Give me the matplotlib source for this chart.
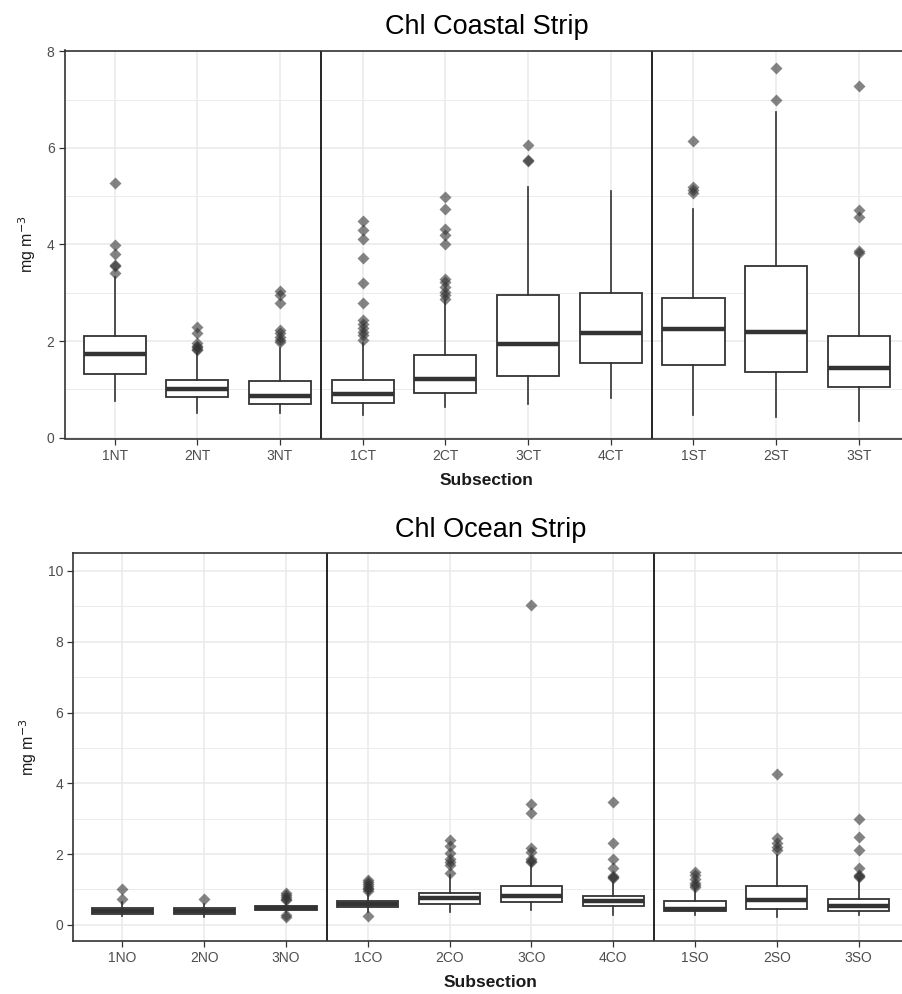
import matplotlib
matplotlib.use('Agg')
import matplotlib.pyplot as plt

plt.rcParams['font.family'] = ['Liberation Sans', 'DejaVu Sans']

# Données : bande côtière
labels_coast = ['1NT', '2NT', '3NT', '1CT', '2CT', '3CT', '4CT', '1ST', '2ST', '3ST']
q1_coast = [1.31, 0.83, 0.69, 0.71, 0.92, 1.27, 1.54, 1.50, 1.36, 1.05]
med_coast = [1.74, 1.01, 0.86, 0.90, 1.21, 1.93, 2.16, 2.24, 2.19, 1.45]
q3_coast = [2.10, 1.20, 1.17, 1.20, 1.71, 2.95, 3.00, 2.89, 3.55, 2.10]
whislo_coast = [0.76, 0.50, 0.50, 0.47, 0.64, 0.70, 0.81, 0.47, 0.42, 0.35]
whishi_coast = [3.33, 1.76, 1.86, 1.96, 2.85, 5.19, 5.11, 4.74, 6.74, 3.71]
fliers_coast = [
    [5.27, 3.98, 3.81, 3.58, 3.55, 3.41],
    [2.29, 2.16, 1.95, 1.90, 1.87, 1.84, 1.82],
    [3.04, 2.95, 2.79, 2.23, 2.16, 2.08, 2.02, 1.98],
    [4.49, 4.31, 4.12, 3.72, 3.21, 2.79, 2.43, 2.36, 2.26, 2.19, 2.12, 2.02],
    [4.98, 4.74, 4.33, 4.19, 4.02, 3.29, 3.23, 3.12, 3.02, 2.95, 2.88],
    [6.07, 5.75, 5.73],
    [],
    [6.15, 5.19, 5.12, 5.07],
    [7.65, 7.00],
    [7.28, 4.72, 4.57, 3.87, 3.83],
]

# Données : bande océanique
labels_ocean = ['1NO', '2NO', '3NO', '1CO', '2CO', '3CO', '4CO', '1SO', '2SO', '3SO']
q1_ocean = [0.31, 0.31, 0.42, 0.50, 0.58, 0.65, 0.54, 0.39, 0.46, 0.39]
med_ocean = [0.40, 0.40, 0.47, 0.58, 0.75, 0.82, 0.68, 0.46, 0.70, 0.53]
q3_ocean = [0.48, 0.48, 0.53, 0.67, 0.90, 1.09, 0.82, 0.67, 1.09, 0.74]
whislo_ocean = [0.25, 0.23, 0.37, 0.37, 0.37, 0.43, 0.27, 0.27, 0.23, 0.27]
whishi_ocean = [0.65, 0.60, 0.65, 0.90, 1.40, 1.75, 1.20, 1.00, 1.97, 1.31]
fliers_ocean = [
    [1.00, 0.74],
    [0.73],
    [0.89, 0.84, 0.79, 0.74, 0.70, 0.27, 0.23],
    [1.26, 1.20, 1.15, 1.10, 1.05, 1.00, 0.95, 0.24],
    [2.39, 2.22, 2.02, 1.85, 1.78, 1.69, 1.45],
    [9.03, 3.40, 3.15, 2.16, 2.06, 1.87, 1.80, 1.78],
    [3.47, 2.30, 1.87, 1.61, 1.37, 1.34, 1.31],
    [1.50, 1.40, 1.30, 1.17, 1.12, 1.07],
    [4.27, 2.44, 2.30, 2.20, 2.11],
    [3.00, 2.49, 2.11, 1.61, 1.40, 1.37, 1.34],
]


def panneau(ax, labels, q1, med, q3, lo, hi, fliers, ylim, major, minor, title):
    stats = []
    for i in range(len(labels)):
        stats.append({'q1': q1[i], 'med': med[i], 'q3': q3[i],
                      'whislo': lo[i], 'whishi': hi[i], 'fliers': fliers[i],
                      'label': labels[i]})
    ax.set_axisbelow(True)
    ax.bxp(stats, positions=range(1, len(labels) + 1), widths=0.75,
           showfliers=True, patch_artist=True,
           boxprops=dict(facecolor='white', edgecolor='#333333', linewidth=1.3),
           medianprops=dict(color='#333333', linewidth=3.2, solid_capstyle='butt'),
           whiskerprops=dict(color='#333333', linewidth=1.2),
           capprops=dict(linewidth=0),
           flierprops=dict(marker='D', markersize=6.5, markerfacecolor='#333333',
                           markeredgecolor='none', alpha=0.6))
    ax.set_xlim(0.4, len(labels) + 0.6)
    ax.set_ylim(*ylim)
    ax.set_yticks(major)
    ax.set_yticks(minor, minor=True)
    ax.grid(which='major', color='#EBEBEB', linewidth=1.2)
    ax.grid(which='minor', axis='y', color='#EBEBEB', linewidth=0.7)
    ax.tick_params(which='minor', left=False)
    ax.tick_params(which='major', colors='#333333', labelcolor='#4D4D4D',
                   labelsize=10, length=4, width=0.9)
    for s in ax.spines.values():
        s.set_color('#333333')
        s.set_linewidth(1.2)
    # séparateurs entre les régions (N, C, S)
    ax.axvline(3.5, color='black', linewidth=1.2)
    ax.axvline(7.5, color='black', linewidth=1.2)
    ax.set_xlabel('Subsection', fontsize=12.5, fontweight='bold', color='#1a1a1a', labelpad=7)
    ax.set_ylabel('mg m$^{-3}$', fontsize=11.5, color='#1a1a1a', labelpad=6)
    ax.set_title(title, fontsize=19.5, color='black', pad=12)


fig = plt.figure(figsize=(9.02, 9.94), dpi=100)
ax1 = fig.add_axes([65 / 902, 1 - 438.5 / 994, 843.5 / 902, 388 / 994])
ax2 = fig.add_axes([73.3 / 902, 1 - 940.7 / 994, 834.4 / 902, 387.4 / 994])

panneau(ax1, labels_coast, q1_coast, med_coast, q3_coast, whislo_coast, whishi_coast,
        fliers_coast, (-0.02, 8.02), [0, 2, 4, 6, 8], [1, 3, 5, 7], 'Chl Coastal Strip')
panneau(ax2, labels_ocean, q1_ocean, med_ocean, q3_ocean, whislo_ocean, whishi_ocean,
        fliers_ocean, (-0.45, 10.5), [0, 2, 4, 6, 8, 10], [1, 3, 5, 7, 9], 'Chl Ocean Strip')

fig.savefig('out.png', dpi=100, facecolor='white')
